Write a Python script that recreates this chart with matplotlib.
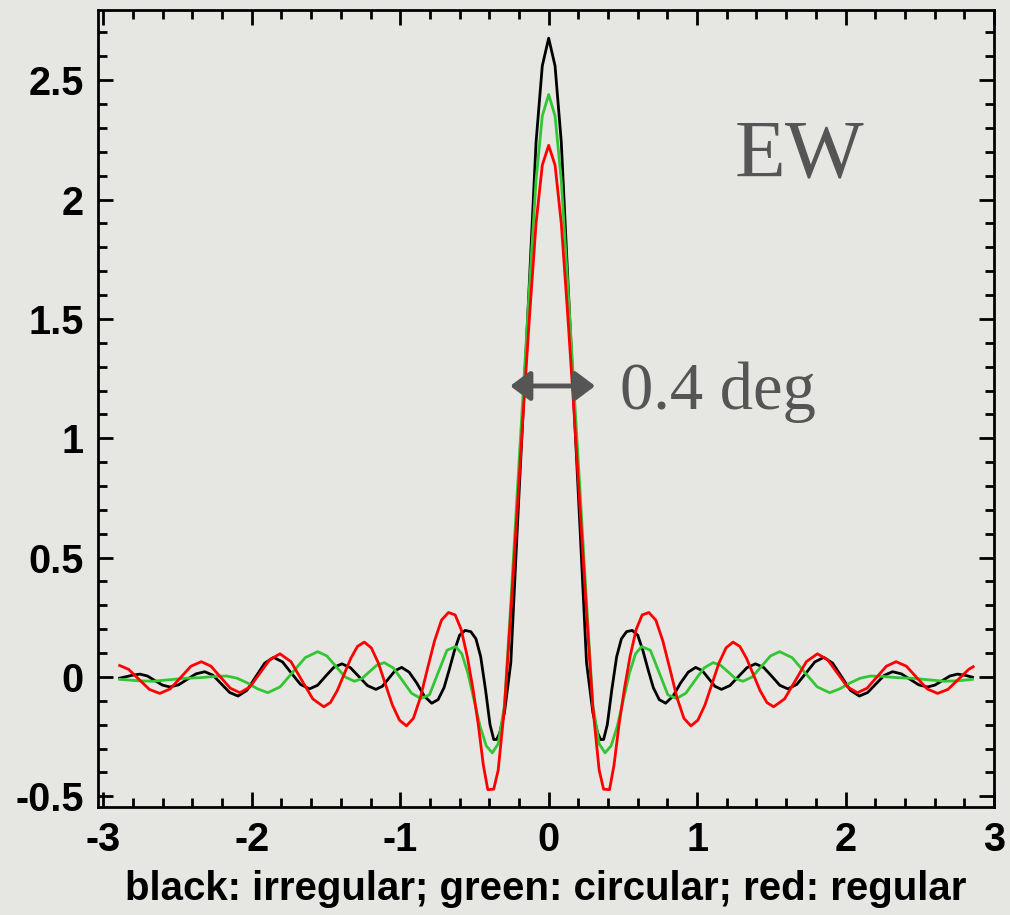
import matplotlib.pyplot as plt
from matplotlib.ticker import FixedLocator, MultipleLocator

plt.rcParams["axes.unicode_minus"] = False

# curves (x in deg)
black_x = [-2.89, -2.805, -2.754, -2.703, -2.653, -2.602, -2.552, -2.493, -2.435, -2.376,
           -2.317, -2.261, -2.205, -2.149, -2.093, -2.033, -1.973, -1.913, -1.853, -1.793,
           -1.733, -1.672, -1.612, -1.557, -1.503, -1.448, -1.393, -1.336, -1.279, -1.221,
           -1.164, -1.12, -1.077, -1.034, -0.99, -0.94, -0.889, -0.838, -0.788, -0.745,
           -0.705, -0.67, -0.635, -0.60, -0.563, -0.525, -0.49, -0.458, -0.425, -0.395,
           -0.37, -0.35, -0.33, -0.298, -0.255, -0.213, -0.17, -0.128, -0.085, -0.043,
           0.0, 0.043, 0.085, 0.128, 0.17, 0.213, 0.255, 0.298, 0.33, 0.35, 0.37,
           0.395, 0.425, 0.458, 0.49, 0.525, 0.563, 0.60, 0.635, 0.67, 0.705,
           0.745, 0.788, 0.838, 0.889, 0.94, 0.99, 1.034, 1.077, 1.12, 1.164,
           1.221, 1.279, 1.336, 1.393, 1.448, 1.503, 1.557, 1.612, 1.672, 1.733,
           1.793, 1.853, 1.913, 1.973, 2.033, 2.093, 2.149, 2.205, 2.261, 2.317,
           2.376, 2.435, 2.493, 2.552, 2.602, 2.653, 2.703, 2.754, 2.805, 2.855]
black_y = [-0.005, 0.007, 0.012, 0.004, -0.015, -0.034, -0.042, -0.033, -0.01, 0.013,
           0.022, 0.007, -0.029, -0.065, -0.08, -0.056, 0.001, 0.058, 0.082, 0.063,
           0.016, -0.031, -0.05, -0.035, 0.003, 0.04, 0.055, 0.039, 0.002, -0.036,
           -0.052, -0.039, -0.006, 0.027, 0.04, 0.02, -0.025, -0.08, -0.11, -0.095,
           -0.045, 0.03, 0.11, 0.175, 0.195, 0.19, 0.16, 0.085, -0.055, -0.2,
           -0.262, -0.262, -0.235, -0.15, 0.06, 0.6, 1.14, 1.68, 2.24, 2.56,
           2.676, 2.56, 2.24, 1.68, 1.14, 0.6, 0.06, -0.15, -0.235, -0.262, -0.262,
           -0.2, -0.055, 0.085, 0.16, 0.19, 0.195, 0.175, 0.11, 0.03, -0.045,
           -0.095, -0.11, -0.08, -0.025, 0.02, 0.04, 0.027, -0.006, -0.039, -0.052,
           -0.036, 0.002, 0.039, 0.055, 0.04, 0.003, -0.035, -0.05, -0.031, 0.016,
           0.063, 0.082, 0.058, 0.001, -0.056, -0.08, -0.065, -0.029, 0.007, 0.022,
           0.013, -0.01, -0.033, -0.042, -0.034, -0.015, 0.004, 0.012, 0.007, -0.001]

green_x = [-2.89, -2.76, -2.665, -2.56, -2.46, -2.35, -2.25, -2.17, -2.10, -2.03,
           -1.96, -1.892, -1.808, -1.724, -1.64, -1.556, -1.494, -1.433, -1.371, -1.309,
           -1.259, -1.209, -1.158, -1.108, -1.047, -0.985, -0.924, -0.862, -0.803, -0.744,
           -0.685, -0.626, -0.585, -0.544, -0.503, -0.462, -0.421, -0.38, -0.34, -0.298,
           -0.255, -0.213, -0.17, -0.128, -0.085, -0.043,
           0.0, 0.043, 0.085, 0.128, 0.17, 0.213, 0.255, 0.298, 0.34, 0.38,
           0.421, 0.462, 0.503, 0.544, 0.585, 0.626, 0.685, 0.744, 0.803, 0.862,
           0.924, 0.985, 1.047, 1.108, 1.158, 1.209, 1.259, 1.309, 1.371, 1.433,
           1.494, 1.556, 1.64, 1.724, 1.808, 1.892, 1.96, 2.03, 2.10, 2.17,
           2.25, 2.35, 2.46, 2.56, 2.665, 2.76, 2.855]
green_y = [-0.01, -0.016, -0.018, -0.012, -0.006, -0.003, 0.002, 0.004, -0.005, -0.025,
           -0.05, -0.066, -0.041, 0.02, 0.081, 0.106, 0.088, 0.044, 0.0, -0.018,
           -0.007, 0.021, 0.049, 0.06, 0.038, -0.015, -0.068, -0.09, -0.075, 0.019,
           0.112, 0.127, 0.097, 0.016, -0.096, -0.207, -0.288, -0.318, -0.28, -0.12,
           0.31, 0.76, 1.21, 1.65, 2.08, 2.35,
           2.44, 2.35, 2.08, 1.65, 1.21, 0.76, 0.31, -0.12, -0.28, -0.318,
           -0.288, -0.207, -0.096, 0.016, 0.097, 0.127, 0.112, 0.019, -0.075, -0.09,
           -0.068, -0.015, 0.038, 0.06, 0.049, 0.021, -0.007, -0.018, 0.0, 0.044,
           0.088, 0.106, 0.081, 0.02, -0.041, -0.066, -0.05, -0.025, -0.005, 0.004,
           0.002, -0.003, -0.006, -0.012, -0.018, -0.016, -0.01]

red_x = [-2.89, -2.83, -2.76, -2.69, -2.62, -2.55, -2.48, -2.41, -2.34, -2.275,
         -2.21, -2.145, -2.08, -2.013, -1.945, -1.878, -1.81, -1.736, -1.663, -1.589,
         -1.515, -1.47, -1.424, -1.379, -1.333, -1.288, -1.242, -1.195, -1.147, -1.10,
         -1.053, -1.005, -0.958, -0.911, -0.864, -0.817, -0.769, -0.722, -0.675, -0.63,
         -0.59, -0.548, -0.51, -0.474, -0.44, -0.41, -0.37, -0.34, -0.298, -0.255,
         -0.213, -0.17, -0.128, -0.085, -0.043,
         0.0, 0.043, 0.085, 0.128, 0.17, 0.213, 0.255, 0.298, 0.34, 0.37, 0.41,
         0.44, 0.474, 0.51, 0.548, 0.59, 0.63, 0.675, 0.722, 0.769, 0.817,
         0.864, 0.911, 0.958, 1.005, 1.053, 1.10, 1.147, 1.195, 1.242, 1.288,
         1.333, 1.379, 1.424, 1.47, 1.515, 1.589, 1.663, 1.736, 1.81, 1.878,
         1.945, 2.013, 2.08, 2.145, 2.21, 2.275, 2.34, 2.41, 2.48, 2.55,
         2.62, 2.69, 2.76, 2.83, 2.86]
red_y = [0.048, 0.032, -0.01, -0.052, -0.069, -0.05, -0.003, 0.045, 0.064, 0.045,
         -0.001, -0.047, -0.066, -0.042, 0.016, 0.073, 0.097, 0.064, -0.014, -0.092,
         -0.125, -0.107, -0.057, 0.01, 0.078, 0.128, 0.146, 0.122, 0.058, -0.03,
         -0.117, -0.181, -0.205, -0.173, -0.086, 0.033, 0.151, 0.238, 0.27, 0.26,
         0.20, 0.085, -0.05, -0.2, -0.37, -0.472, -0.47, -0.39, -0.13, 0.27,
         0.69, 1.12, 1.52, 1.90, 2.144,
         2.227, 2.144, 1.90, 1.52, 1.12, 0.69, 0.27, -0.13, -0.39, -0.47, -0.472,
         -0.37, -0.2, -0.05, 0.085, 0.20, 0.26, 0.27, 0.238, 0.151, 0.033,
         -0.086, -0.173, -0.205, -0.181, -0.117, -0.03, 0.058, 0.122, 0.146, 0.128,
         0.078, 0.01, -0.057, -0.107, -0.125, -0.092, -0.014, 0.064, 0.097, 0.073,
         0.016, -0.042, -0.066, -0.047, -0.001, 0.045, 0.064, 0.045, -0.003, -0.05,
         -0.069, -0.052, -0.01, 0.032, 0.043]

xticks = [-3, -2, -1, 0, 1, 2, 3]
xtick_labels = ["-3", "-2", "-1", "0", "1", "2", "3"]
yticks = [-0.5, 0, 0.5, 1, 1.5, 2, 2.5]
ytick_labels = ["-0.5", "0", "0.5", "1", "1.5", "2", "2.5"]

bg = "#e6e6e2"
W, H = 1010, 915
fig = plt.figure(figsize=(W / 100, H / 100), dpi=100, facecolor=bg)
ax = fig.add_axes([97.7 / W, 1 - 807.3 / H, (994 - 97.7) / W, (807.3 - 10) / H])
ax.set_facecolor(bg)

ax.plot(black_x, black_y, color="black", lw=2)
ax.plot(green_x, green_y, color="#33c633", lw=2)
ax.plot(red_x, red_y, color="#ff0000", lw=2)

ax.set_xlim(-3.038, 3.0)
ax.set_ylim(-0.546, 2.794)
ax.xaxis.set_major_locator(FixedLocator(xticks))
ax.set_xticklabels(xtick_labels)
ax.yaxis.set_major_locator(FixedLocator(yticks))
ax.set_yticklabels(ytick_labels)
ax.xaxis.set_minor_locator(MultipleLocator(0.2))
ax.yaxis.set_minor_locator(MultipleLocator(0.1))
ax.tick_params(which="both", direction="in", top=True, right=True, width=2,
               labelsize=28.5, pad=10)
ax.tick_params(which="major", length=11)
ax.tick_params(which="minor", length=6.5)
for lab in ax.get_xticklabels() + ax.get_yticklabels():
    lab.set_family("Liberation Sans")
    lab.set_fontweight("bold")
for s in ax.spines.values():
    s.set_linewidth(2)

ax.set_xlabel("black: irregular; green: circular; red: regular", fontsize=29,
              fontweight="bold", family="Liberation Sans", labelpad=8)

# width marker on the main lobe
ax.annotate("", xy=(0.313, 1.219), xytext=(-0.259, 1.219),
            arrowprops=dict(arrowstyle="<|-|>,head_length=0.6,head_width=0.45",
                            color="#555555", lw=3.5, shrinkA=0, shrinkB=0,
                            mutation_scale=20), zorder=5)
fig.text(620 / W, 1 - 409 / H, "0.4 deg", fontsize=48, family="Liberation Serif",
         color="#555555", va="baseline", ha="left")
fig.text(735 / W, 1 - 177 / H, "EW", fontsize=60, family="Liberation Serif",
         color="#555555", va="baseline", ha="left")

fig.savefig("out.png", dpi=100, facecolor=bg)
